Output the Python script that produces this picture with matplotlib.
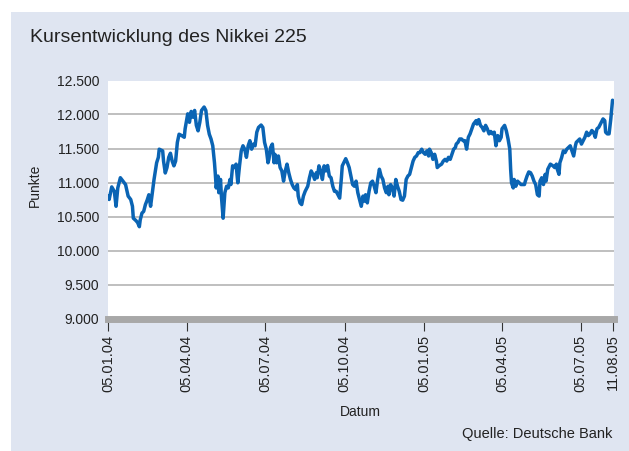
'''
Kursentwicklung des Nikkei 225 (05.01.04 - 11.08.05)
'''

# external libraries
import matplotlib
matplotlib.use('Agg')
import matplotlib.pyplot as plt
import matplotlib.dates as mdates
from matplotlib.patches import Rectangle
from matplotlib.ticker import FuncFormatter
import pandas as pd


# data : days after 05.01.04 and index value
start = pd.Timestamp('2004-01-05')

tage = [
    0, 1, 4, 7, 9, 11, 14, 17, 20, 23, 26, 28, 29, 32, 34, 36, 37, 39, 41, 43,
    45, 47, 49, 51, 53, 56, 58, 59, 63, 64, 66, 68, 70, 72, 74, 76, 78, 80, 82, 85,
    88, 89, 91, 92, 94, 96, 98, 100, 102, 104, 106, 108, 111, 113, 115, 117, 119, 121, 123, 124,
    125, 127, 128, 130, 131, 133, 135, 137, 139, 141, 142, 144, 146, 148, 150, 152, 154, 156, 158, 160,
    162, 164, 166, 168, 170, 172, 174, 177, 179, 181, 183, 185, 186, 188, 190, 192, 193, 195, 197, 199,
    201, 203, 205, 207, 209, 211, 213, 215, 217, 219, 220, 222, 224, 226, 228, 231, 233, 235, 237, 239,
    241, 242, 244, 246, 248, 250, 252, 254, 256, 258, 260, 262, 264, 266, 268, 270, 271, 275, 277, 279,
    281, 283, 285, 287, 289, 291, 293, 295, 297, 298, 300, 302, 304, 306, 308, 310, 312, 314, 316, 318,
    320, 322, 324, 325, 327, 329, 331, 333, 335, 337, 339, 341, 343, 345, 347, 349, 351, 353, 355, 357,
    359, 361, 363, 365, 367, 369, 371, 372, 374, 376, 378, 380, 381, 383, 386, 388, 390, 392, 394, 396,
    398, 400, 402, 403, 405, 407, 409, 411, 413, 415, 417, 419, 421, 423, 426, 427, 429, 431, 433, 435,
    437, 439, 441, 443, 445, 447, 449, 451, 453, 455, 456, 459, 461, 463, 465, 466, 467, 469, 470, 472,
    474, 476, 478, 480, 482, 483, 485, 487, 489, 491, 493, 495, 497, 499, 500, 502, 504, 506, 507, 509,
    512, 515, 517, 519, 520, 522, 523, 525, 527, 529, 531, 533, 535, 537, 539, 541, 542, 544, 546, 548,
    550, 552, 554, 556, 558, 560, 562, 564, 566, 568, 569, 571, 573, 575, 576, 578, 580, 582, 584,
]

punkte = [
    10800, 10750, 10935, 10870, 10650, 10920, 11070, 11020, 10970, 10800, 10750, 10650, 10475, 10440, 10410, 10350, 10450, 10550, 10575, 10675,
    10740, 10820, 10650, 10850, 11045, 11290, 11370, 11490, 11465, 11315, 11140, 11220, 11370, 11430, 11315, 11245, 11315, 11590, 11710, 11690,
    11665, 11790, 11935, 12010, 11885, 12045, 11960, 12060, 11840, 11760, 11885, 12060, 12110, 12060, 11840, 11710, 11640, 11540, 11290, 11120,
    10920, 11095, 10850, 11045, 10800, 10475, 10850, 10945, 10920, 11045, 10970, 11245, 11220, 11270, 10995, 11245, 11465, 11540, 11490, 11370,
    11540, 11615, 11490, 11565, 11540, 11740, 11810, 11845, 11810, 11590, 11490, 11290, 11340, 11515, 11565, 11290, 11415, 11290, 11390, 11220,
    11170, 11020, 11170, 11270, 11145, 11045, 10970, 10920, 10895, 10970, 10800, 10700, 10675, 10800, 10870, 10945, 11070, 11170, 11120, 11045,
    11145, 11070, 11245, 11170, 11045, 11245, 11170, 11250, 11095, 11070, 10945, 10870, 10870, 10820, 10770, 11070, 11245, 11350, 11290, 11220,
    11095, 10970, 10945, 11020, 10850, 10750, 10650, 10800, 10725, 10820, 10700, 10870, 10995, 11020, 10945, 10850, 11045, 11195, 11095, 11045,
    10920, 10850, 10945, 10820, 10970, 10920, 10800, 11045, 10945, 10870, 10750, 10740, 10800, 11045, 11095, 11120, 11220, 11315, 11370, 11390,
    11440, 11440, 11490, 11440, 11415, 11465, 11390, 11490, 11440, 11340, 11415, 11315, 11220, 11245, 11270, 11315, 11340, 11315, 11370, 11340,
    11415, 11490, 11515, 11565, 11590, 11640, 11640, 11615, 11615, 11490, 11665, 11715, 11790, 11860, 11910, 11860, 11925, 11840, 11810, 11760,
    11840, 11790, 11715, 11750, 11715, 11740, 11540, 11690, 11615, 11665, 11790, 11840, 11760, 11640, 11490, 11195, 10995, 10920, 11045, 10945,
    11020, 10995, 10970, 10970, 10970, 11020, 11095, 11155, 11145, 11095, 11020, 10970, 10820, 10800, 11020, 11070, 10970, 11120, 11020, 11195,
    11270, 11245, 11220, 11270, 11195, 11120, 11290, 11365, 11465, 11440, 11490, 11515, 11540, 11465, 11390, 11540, 11590, 11615, 11640, 11565,
    11615, 11665, 11740, 11690, 11715, 11765, 11740, 11665, 11790, 11810, 11835, 11885, 11935, 11910, 11740, 11715, 11715, 11935, 12210,
]

x_ticks = ['2004-01-05', '2004-04-05', '2004-07-05', '2004-10-05',
           '2005-01-05', '2005-04-05', '2005-07-05', '2005-08-11']
y_ticks = [9000, 9500, 10000, 10500, 11000, 11500, 12000, 12500]

title = 'Kursentwicklung des Nikkei 225'
quelle = 'Quelle: Deutsche Bank'


# style
plt.rcParams['font.family'] = ['Liberation Sans', 'DejaVu Sans']
text_col = '#222222'
W, H = 629, 451


def punkt_format(v, pos):
    # 12500 -> 12.500
    return f'{v:,.0f}'.replace(',', '.')


fig = plt.figure(figsize=(W / 100, H / 100), dpi=100)
fig.patch.set_facecolor('white')

# light blue panel behind everything
fig.patches.append(Rectangle((11 / W, 0), 1 - 11 / W, 1 - 12 / H,
                             transform=fig.transFigure, facecolor='#dfe5f1',
                             edgecolor='none', zorder=-10))

ax = fig.add_axes([107.5 / W, (H - 318.5) / H, 506.5 / W, 238 / H])
ax.set_facecolor('white')

# grid lines (no line on the top edge)
for lvl in y_ticks[1:-1]:
    ax.axhline(lvl, color='#b4b4b4', lw=1.2, zorder=1)

dates = start + pd.to_timedelta(tage, unit='D')
ax.plot(dates, punkte, color='#0a64b4', lw=2.5,
        solid_joinstyle='round', solid_capstyle='round', zorder=3)

ax.set_ylim(9000, 12500)
ax.set_xlim(start - pd.Timedelta(days=0.9), start + pd.Timedelta(days=585.7))

ax.set_yticks(y_ticks)
ax.yaxis.set_major_formatter(FuncFormatter(punkt_format))
ax.set_xticks(pd.to_datetime(x_ticks))
ax.xaxis.set_major_formatter(mdates.DateFormatter('%d.%m.%y'))

for s in ['top', 'left', 'right']:
    ax.spines[s].set_visible(False)
ax.spines['bottom'].set_color('#a8a8a8')
ax.spines['bottom'].set_linewidth(5)

ax.tick_params(axis='x', direction='out', length=8.5, width=0.8,
               color='#333333', labelrotation=90, labelsize=10.5,
               labelcolor=text_col, pad=3)
ax.tick_params(axis='y', length=0, labelsize=10, labelcolor=text_col, pad=6)

# texts
fig.text(30 / W, 1 - 38 / H, title, fontsize=14, color=text_col, va='center')
fig.text(35 / W, 1 - 185 / H, 'Punkte', fontsize=10, color=text_col,
         rotation=90, va='center', ha='center')
fig.text(360 / W, 1 - 412 / H, 'Datum', fontsize=10, color=text_col,
         va='center', ha='center')
fig.text(612 / W, 1 - 434 / H, quelle, fontsize=10.5, color=text_col,
         va='center', ha='right')

fig.savefig('out.png', dpi=100)
